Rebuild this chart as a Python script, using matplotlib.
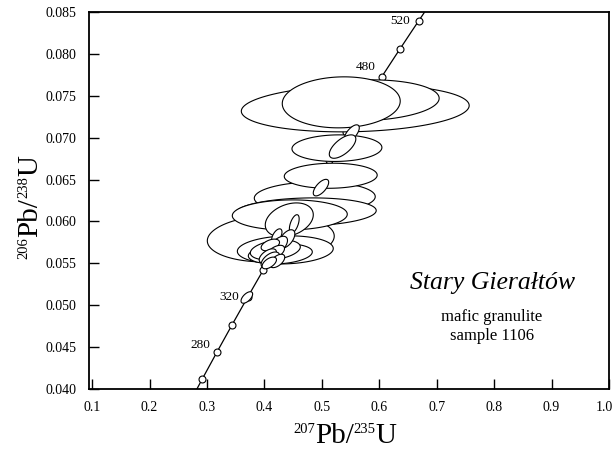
import numpy as np
import matplotlib.pyplot as plt
from matplotlib.transforms import ScaledTranslation

plt.rcParams['font.family'] = ['Liberation Serif', 'DejaVu Serif']

# ellipses: centre (207Pb/235U, 206Pb/238U), half-axes and correlation, in draw order
ell_x = [0.5581, 0.5737, 0.5337, 0.5262, 0.5520, 0.5360, 0.4876, 0.5154, 0.4984,
         0.4110, 0.4719, 0.4441, 0.4363, 0.4276, 0.4432, 0.4189,
         0.4519, 0.4389, 0.4215, 0.4241, 0.4102, 0.4189, 0.4058, 0.4102, 0.4223, 0.4084,
         0.3693]
ell_y = [0.07351, 0.07447, 0.07423, 0.06875, 0.07052, 0.06894, 0.06286, 0.06545, 0.06403,
         0.05795, 0.06112, 0.06076, 0.05658, 0.05610, 0.06017, 0.05658,
         0.05969, 0.05789, 0.05825, 0.05711, 0.05717, 0.05628, 0.05586, 0.05538, 0.05526, 0.05502,
         0.05089]
ell_sx = [0.1984, 0.1305, 0.1027, 0.0783, 0.0131, 0.0231, 0.1053, 0.0809, 0.0134,
          0.1105, 0.1227, 0.1001, 0.0835, 0.0557, 0.0418, 0.0435,
          0.0085, 0.0140, 0.0090, 0.0160, 0.0160, 0.0160, 0.0150, 0.0160, 0.0130, 0.0125,
          0.0101]
ell_sy = [0.00281, 0.00245, 0.00305, 0.00159, 0.00102, 0.00140, 0.00186, 0.00150, 0.00099,
          0.00281, 0.00168, 0.00180, 0.00168, 0.00120, 0.00203, 0.00120,
          0.00110, 0.00110, 0.00085, 0.00110, 0.00070, 0.00085, 0.00085, 0.00095, 0.00080, 0.00070,
          0.00069]
ell_rho = [0.12, 0.10, 0.05, 0.05, 0.65, 0.65, 0.05, 0.05, 0.65,
           0.10, 0.10, 0.05, 0.10, 0.20, 0.30, 0.30,
           0.55, 0.55, 0.55, 0.55, 0.45, 0.55, 0.55, 0.55, 0.55, 0.55,
           0.60]

# concordia age marks (Ma) and labelled ages
mark_ages = [260, 280, 300, 320, 340, 360, 380, 400, 420, 440, 460, 480, 500, 520]
label_ages = [280, 320, 480, 520]
label_offsets = [(-12, 5), (-13, 0), (-11.5, 7), (-13.5, 0)]

xticks = [0.1, 0.2, 0.3, 0.4, 0.5, 0.6, 0.7, 0.8, 0.9, 1.0]
yticks = [0.040, 0.045, 0.050, 0.055, 0.060, 0.065, 0.070, 0.075, 0.080, 0.085]

L238 = 1.55125e-10
L235 = 9.8485e-10

W, H = 613, 449


def concordia(t_ma):
    t = np.asarray(t_ma) * 1e6
    return np.exp(L235 * t) - 1, np.exp(L238 * t) - 1


def rich_label(fig, cx, cy, parts, vertical=False):
    # parts: (text, size, rise in px); cx, cy: centre in pixels from top-left
    r = fig.canvas.get_renderer()
    items = []
    total = 0
    for s, size, rise in parts:
        t = fig.text(0, 0, s, fontsize=size, ha='left', va='baseline',
                     rotation=90 if vertical else 0, rotation_mode='anchor')
        bb = t.get_window_extent(r)
        w = bb.height if vertical else bb.width
        items.append((t, total, rise))
        total += w
    for t, pos, rise in items:
        if vertical:
            x = cx - rise
            y = cy + total / 2 - pos
        else:
            x = cx - total / 2 + pos
            y = cy - rise
        t.set_position((x / W, 1 - y / H))


fig = plt.figure(figsize=(6.13, 4.49), dpi=100)
ax = fig.add_axes([0.1457, 0.1347, 0.8478, 0.8379])

# concordia curve
cx, cy = concordia(np.linspace(240, 560, 300))
ax.plot(cx, cy, color='black', lw=0.9, zorder=1)
mx, my = concordia(mark_ages)
ax.plot(mx, my, 'o', ms=5, mfc='white', mec='black', mew=0.8, zorder=2)
for age, off in zip(label_ages, label_offsets):
    lx, ly = concordia(age)
    ax.annotate(str(age), (lx, ly), xytext=off, textcoords='offset points',
                ha='center', va='center', fontsize=9.5, zorder=5)

# error ellipses
t = np.linspace(0, 2 * np.pi, 200)
for i in range(len(ell_x)):
    ex = ell_x[i] + ell_sx[i] * np.cos(t)
    ey = ell_y[i] + ell_sy[i] * (ell_rho[i] * np.cos(t) + np.sqrt(1 - ell_rho[i] ** 2) * np.sin(t))
    ax.fill(ex, ey, facecolor='white', edgecolor='black', lw=0.8, zorder=3 + i * 0.01)

ax.set_xlim(0.095, 1.0)
ax.set_ylim(0.040, 0.085)
ax.set_xticks(xticks)
ax.set_yticks(yticks)
ax.set_xticklabels(['%.1f' % v for v in xticks])
ax.set_yticklabels(['%.3f' % v for v in yticks])
ax.tick_params(direction='in', length=7, width=1, labelsize=10, top=False, right=False)
ax.tick_params(axis='y', pad=9)
ax.tick_params(axis='x', pad=9)
for s in ax.spines.values():
    s.set_linewidth(1.3)
last = ax.get_xticklabels()[-1]
last.set_transform(last.get_transform() + ScaledTranslation(-5 / 100, 0, fig.dpi_scale_trans))

ax.text(0.775, 0.280, 'Stary Gierałtów', transform=ax.transAxes, fontsize=18.5,
        style='italic', ha='center', va='center')
ax.text(0.775, 0.165, 'mafic granulite\nsample 1106', transform=ax.transAxes,
        fontsize=12, ha='center', va='center', linespacing=1.2)

rich_label(fig, 345, 443, [('207', 10.5, 10), ('Pb/', 21, 0), ('235', 10.5, 10), ('U', 21, 0)])
rich_label(fig, 37, 207, [('206', 10.5, 10), ('Pb/', 21, 0), ('238', 10.5, 10), ('U', 21, 0)],
           vertical=True)

fig.savefig('out.png', dpi=100)
